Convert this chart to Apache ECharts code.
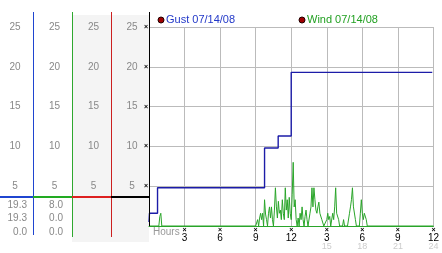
<!DOCTYPE html>
<html><head><meta charset="utf-8">
<script src="https://cdn.jsdelivr.net/npm/echarts@6/dist/echarts.min.js"></script>
<style>html,body{margin:0;padding:0;background:#fff}#c{width:442px;height:253px}</style>
</head><body><div id="c"></div>
<script>
// ---- data ----
const yMin = 0, yMax = 25, yStep = 5;
const hourMin = 0, hourMax = 24, hourStep = 3;
const hourLabels = {3:'3', 6:'6', 9:'9', 12:'12', 15:'3', 18:'6', 21:'9', 24:'12'};
const hourLabels24 = {15:'15', 18:'18', 21:'21', 24:'24'};
const axisTitle = 'Hours';
const gustName = 'Gust 07/14/08';
const windName = 'Wind 07/14/08';
// gust: step series (value holds until next time)
const gustHours  = [0,   0.04, 0.72, 9.75, 10.9, 12.0, 23.9];
const gustValues = [0.5, 1.6,  4.8,  9.8,  11.3, 19.3, 19.3];
// wind: 5-minute samples
const windSampleStep = 1 / 12;
const windEarlyStart = 0.83;
const windEarly = [0, 1.2, 1.6, 0];
const windBurstStart = 9.0;
const windBurst = [
  0, 0, 0.8, 0, 1.0, 1.6, 0.8, 1.6, 0, 3.3,
  1.5, 0.8, 0, 1.6, 2.4, 1.0, 2.4, 0.8, 0, 2.0,
  4.8, 2.4, 1.0, 3.1, 1.6, 2.0, 0.8, 3.3, 1.6, 0.8,
  4.8, 2.0, 3.3, 1.0, 3.6, 1.6, 0.8, 4.0, 8.0, 2.4,
  3.3, 0.8, 0, 1.0, 0, 1.6, 0.8, 2.4, 0.8, 0,
  1.2, 2.0, 0.8, 0, 0, 1.6, 2.4, 4.8, 2.4, 4.8,
  3.3, 2.0, 1.6, 2.4, 3.0, 1.6, 1.6, 0.8, 0.8, 0,
  0, 0, 0.8, 1.6, 0.8, 1.2, 0, 0, 1.6, 0.8,
  2.4, 4.8, 1.6, 1.6, 0.8, 0, 0, 0, 0, 0.8,
  0, 0, 0, 0, 0, 1.6, 2.4, 3.3, 4.8, 2.4,
  2.4, 0.8, 0, 0, 0, 0, 1.6, 3.3, 1.6, 0.8,
  1.6, 1.6, 0.8, 0, 0
];
const gustStats = ['19.3', '19.3', '0.0'];
const windStats = ['8.0', '0.0', '0.0'];

// ---- build ----
const FONT = 'Liberation Sans';
const gustData = gustHours.map((h, i) => [h, gustValues[i]]);
const windData = [[hourMin, 0]];
windEarly.forEach((v, i) => windData.push([windEarlyStart + i * windSampleStep, v]));
windBurst.forEach((v, i) => windData.push([windBurstStart + i * windSampleStep, v]));
windData.push([hourMax, 0]);

const chart = echarts.init(document.getElementById('c'), null, {renderer: 'canvas'});

function labelAxis(offset, margin, color) {
  return {
    type: 'value', min: yMin, max: yMax, interval: yStep, position: 'left', offset: offset,
    axisLine: {show: false}, axisTick: {show: false}, splitLine: {show: false},
    axisLabel: {show: true, showMinLabel: false, margin: margin, align: 'center',
      color: color || '#888', fontSize: 10, fontFamily: FONT}
  };
}

const gray = '#f4f4f4';
const statText = (arr, x) => arr.map((t, i) => ({
  type: 'text', x: x, y: 205 + i * 13.5,
  style: {text: t, fill: '#888', font: '10px ' + FONT, textAlign: 'right', textVerticalAlign: 'middle'}
}));
const vline = (x, y1, y2, c) => ({type: 'line', shape: {x1: x, y1: y1, x2: x, y2: y2}, style: {stroke: c, lineWidth: 1}, z: 10});
const hline = (x1, x2, y, c) => ({type: 'line', shape: {x1: x1, y1: y, x2: x2, y2: y}, style: {stroke: c, lineWidth: 2}, z: 10});

const option = {
  animation: false,
  backgroundColor: '#fff',
  grid: {left: 149, right: 4, top: 27, bottom: 27, containLabel: false},
  xAxis: {
    type: 'value', min: hourMin, max: hourMax, interval: hourStep,
    axisLine: {show: true, lineStyle: {color: '#2aa52a', width: 1}},
    axisTick: {show: false},
    splitLine: {show: true, lineStyle: {color: '#bbb', width: 1}},
    axisLabel: {
      show: true, margin: 0, showMinLabel: false,
      formatter: v => {
        if (!hourLabels[v]) return '';
        let s = '{m|×}\n{n|' + hourLabels[v] + '}';
        if (hourLabels24[v]) s += '\n{g|' + hourLabels24[v] + '}';
        return s;
      },
      rich: {
        m: {fontSize: 7, fontWeight: 'bold', color: '#000', lineHeight: 8, fontFamily: FONT},
        n: {fontSize: 10, color: '#000', lineHeight: 8, fontFamily: FONT},
        g: {fontSize: 9, color: '#ccc', lineHeight: 10, fontFamily: FONT}
      }
    }
  },
  yAxis: [
    Object.assign(labelAxis(0, 17), {splitLine: {show: true, lineStyle: {color: '#bbb', width: 1}}}),
    {type: 'value', min: yMin, max: yMax, interval: yStep, position: 'left', offset: 0,
      axisLine: {show: false}, axisTick: {show: false}, splitLine: {show: false},
      axisLabel: {show: true, showMinLabel: false, margin: 1, align: 'right', formatter: () => '×',
        color: '#000', fontSize: 7, fontWeight: 'bold', fontFamily: FONT}},
    labelAxis(116, 18),
    labelAxis(77, 17.5),
    labelAxis(38, 17.5)
  ],
  series: [
    {name: gustName, type: 'line', step: 'end', data: gustData, yAxisIndex: 0, showSymbol: false,
      lineStyle: {color: '#1c1ca8', width: 1.4}, z: 4},
    {name: windName, type: 'line', data: windData, yAxisIndex: 0, showSymbol: false,
      lineStyle: {color: '#2aa52a', width: 1}, z: 3}
  ],
  graphic: [
    {type: 'rect', shape: {x: 72, y: 15, width: 77, height: 227}, style: {fill: gray}, z: -10},
    vline(33.5, 12, 235, '#1f45d0'),
    vline(72.5, 12, 237, '#2fa82f'),
    vline(111.5, 12, 237, '#cc2020'),
    vline(149.5, 12, 226, '#000'),
    hline(0, 33, 197, '#1f45d0'),
    hline(33, 72, 197, '#22aa22'),
    hline(72, 111, 197, '#dd2020'),
    hline(111, 149, 197, '#000'),
    ...statText(gustStats, 27),
    ...statText(windStats, 63),
    {type: 'text', x: 153, y: 232, style: {text: axisTitle, fill: '#999', font: '10px ' + FONT, textVerticalAlign: 'middle'}},
    {type: 'circle', shape: {cx: 161, cy: 20, r: 3}, style: {fill: '#a00000', stroke: '#200000', lineWidth: 1}},
    {type: 'text', x: 166, y: 20, style: {text: gustName, fill: '#2238c8', font: '11px ' + FONT, textVerticalAlign: 'middle'}},
    {type: 'circle', shape: {cx: 302, cy: 20, r: 3}, style: {fill: '#a00000', stroke: '#200000', lineWidth: 1}},
    {type: 'text', x: 307, y: 20, style: {text: windName, fill: '#22a022', font: '11px ' + FONT, textVerticalAlign: 'middle'}}
  ]
};
chart.setOption(option);
</script>
</body></html>
